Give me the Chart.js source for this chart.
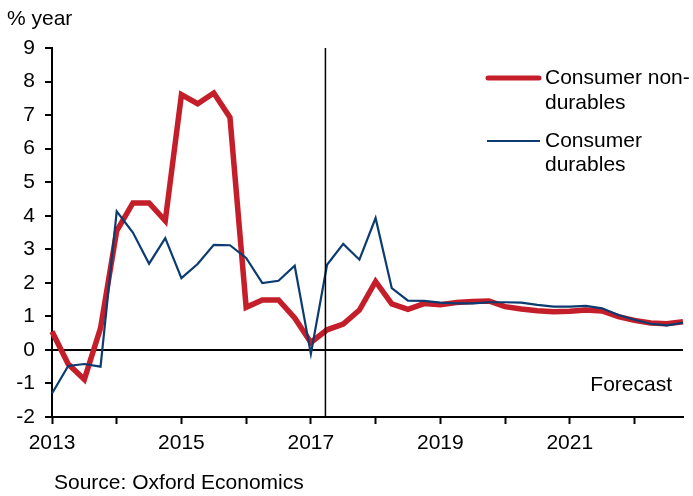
<!DOCTYPE html>
<html>
<head>
<meta charset="utf-8">
<script src="https://cdn.jsdelivr.net/npm/chart.js@4"></script>
<style>
  html, body { margin: 0; padding: 0; background: #fff; }
  #wrap { width: 693px; height: 496px; }
</style>
</head>
<body>
<div id="wrap"><canvas id="chart" width="693" height="496"></canvas></div>
<script>
// quarterly, 2013Q1 .. 2022Q4
const quarters = [
  '2013Q1','2013Q2','2013Q3','2013Q4','2014Q1','2014Q2','2014Q3','2014Q4',
  '2015Q1','2015Q2','2015Q3','2015Q4','2016Q1','2016Q2','2016Q3','2016Q4',
  '2017Q1','2017Q2','2017Q3','2017Q4','2018Q1','2018Q2','2018Q3','2018Q4',
  '2019Q1','2019Q2','2019Q3','2019Q4','2020Q1','2020Q2','2020Q3','2020Q4',
  '2021Q1','2021Q2','2021Q3','2021Q4','2022Q1','2022Q2','2022Q3','2022Q4'
];
const nonDurables = [0.55, -0.42, -0.88, 0.65, 3.55, 4.38, 4.38, 3.85, 7.61, 7.34, 7.66, 6.93,
  1.27, 1.49, 1.49, 0.95, 0.22, 0.6, 0.77, 1.19, 2.04, 1.37, 1.21, 1.38,
  1.35, 1.41, 1.44, 1.46, 1.29, 1.22, 1.17, 1.14, 1.15, 1.19, 1.16, 0.99, 0.88, 0.8, 0.78, 0.84];
const durables = [-1.3, -0.48, -0.42, -0.5, 4.13, 3.5, 2.57, 3.33, 2.14, 2.56, 3.13, 3.12,
  2.74, 1.99, 2.06, 2.51, -0.12, 2.54, 3.16, 2.69, 3.93, 1.84, 1.47, 1.46,
  1.41, 1.39, 1.39, 1.42, 1.42, 1.41, 1.34, 1.29, 1.29, 1.31, 1.24, 1.04, 0.9, 0.78, 0.73, 0.81];
const yearLabels = ['2013', '2015', '2017', '2019', '2021'];
const forecastStart = 16.9; // index position of the forecast divider

const FONT = '"Liberation Sans", Arial, sans-serif';
const red = '#C41E2A';
const blue = '#0B3B70';

const extras = {
  id: 'extras',
  afterDraw(chart) {
    const ctx = chart.ctx;
    const xs = chart.scales.x;
    ctx.save();
    // forecast divider
    const fx = xs.getPixelForValue(forecastStart);
    ctx.strokeStyle = '#000';
    ctx.lineWidth = 1.5;
    ctx.beginPath();
    ctx.moveTo(fx, chart.chartArea.top);
    ctx.lineTo(fx, chart.chartArea.bottom);
    ctx.stroke();

    ctx.fillStyle = '#000';
    ctx.font = '21px ' + FONT;
    ctx.textBaseline = 'middle';
    ctx.textAlign = 'left';
    ctx.fillText('% year', 7, 19);
    ctx.fillText('Source: Oxford Economics', 54, 483);
    ctx.textAlign = 'right';
    ctx.fillText('Forecast', 672, 385);

    // legend
    ctx.textAlign = 'left';
    ctx.lineCap = 'round';
    ctx.strokeStyle = red;
    ctx.lineWidth = 5;
    ctx.beginPath(); ctx.moveTo(488, 78); ctx.lineTo(539, 78); ctx.stroke();
    ctx.strokeStyle = blue;
    ctx.lineWidth = 2;
    ctx.lineCap = 'butt';
    ctx.beginPath(); ctx.moveTo(487, 141); ctx.lineTo(540, 141); ctx.stroke();
    ctx.fillText('Consumer non-', 545, 78);
    ctx.fillText('durables', 545, 103);
    ctx.fillText('Consumer', 545, 141);
    ctx.fillText('durables', 545, 165);
    ctx.restore();
  }
};

new Chart(document.getElementById('chart'), {
  type: 'line',
  data: {
    labels: quarters,
    datasets: [
      {
        label: 'Consumer durables',
        data: durables,
        borderColor: blue,
        borderWidth: 2.2,
        pointRadius: 0,
        tension: 0,
        order: 0
      },
      {
        label: 'Consumer non-durables',
        data: nonDurables,
        borderColor: red,
        borderWidth: 5.5,
        pointRadius: 0,
        tension: 0,
        order: 1
      }
    ]
  },
  options: {
    responsive: false,
    animation: false,
    layout: { padding: { left: 2, right: 10, top: 48, bottom: 0 } },
    plugins: { legend: { display: false }, tooltip: { enabled: false } },
    scales: {
      x: {
        type: 'category',
        offset: false,
        border: { color: '#000', width: 2 },
        grid: {
          drawOnChartArea: false,
          tickLength: 7,
          tickColor: (c) => (c.index % 4 === 0 ? '#000' : 'rgba(0,0,0,0)'),
          tickWidth: 2
        },
        ticks: {
          autoSkip: false,
          maxRotation: 0,
          padding: 7,
          color: '#000',
          font: { family: FONT, size: 21 },
          callback: function (v, i) {
            const q = quarters[i];
            if (q.endsWith('Q1') && yearLabels.includes(q.slice(0, 4))) return q.slice(0, 4);
            return '';
          }
        },
        afterFit: (s) => { s.height = 79; }
      },
      y: {
        min: -2,
        max: 9,
        border: { color: '#000', width: 2 },
        grid: {
          color: (c) => (c.tick && c.tick.value === 0 ? '#000' : 'rgba(0,0,0,0)'),
          lineWidth: 2,
          tickColor: '#000',
          tickLength: 7,
          tickWidth: 2
        },
        ticks: {
          stepSize: 1,
          padding: 10,
          color: '#000',
          font: { family: FONT, size: 21 }
        },
        afterFit: (s) => { s.width = 50; }
      }
    }
  },
  plugins: [extras]
});
</script>
</body>
</html>
